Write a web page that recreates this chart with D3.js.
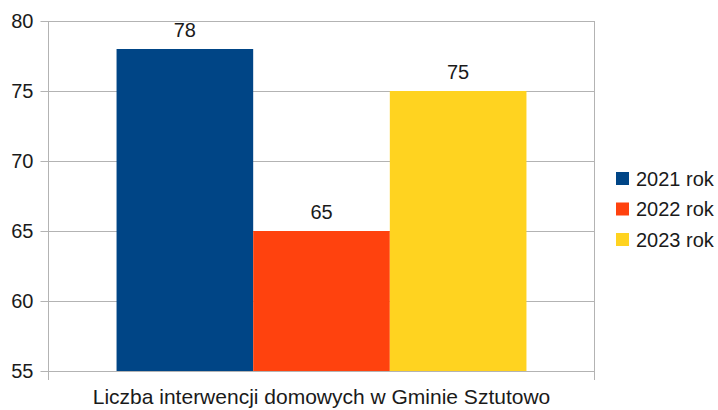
<!DOCTYPE html>
<html>
<head>
<meta charset="utf-8">
<script src="https://cdn.jsdelivr.net/npm/d3@7"></script>
<style>
  body { margin: 0; background: #fff; }
  text { font-family: "Liberation Sans", Arial, sans-serif; fill: #1a1a1a; }
</style>
</head>
<body>
<svg id="chart" width="718" height="410"></svg>
<script>
// data
const category = 'Liczba interwencji domowych w Gminie Sztutowo';
const seriesNames = ['2021 rok', '2022 rok', '2023 rok'];
const seriesValues = [78, 65, 75];
const seriesColors = ['#004586', '#ff420e', '#ffd320'];
const yTicks = [55, 60, 65, 70, 75, 80];

const svg = d3.select('#chart');

const plotLeft = 48.5, plotRight = 594.5, plotTop = 21, plotBottom = 371;
const fontSize = 20;

let y = d3.scaleLinear().domain([55, 80]).range([plotBottom, plotTop]);
let xCat = d3.scaleBand().domain([category]).range([plotLeft, plotRight]).paddingInner(0).paddingOuter(0.166);
let xBar = d3.scaleBand().domain(seriesNames).range([xCat(category), xCat(category) + xCat.bandwidth()]);

// gridlines
svg.append('g')
    .selectAll('line')
    .data(yTicks)
    .enter()
    .append('line')
    .attr('x1', plotLeft - 8)
    .attr('x2', plotRight)
    .attr('y1', d => Math.round(y(d)) + 0.5)
    .attr('y2', d => Math.round(y(d)) + 0.5)
    .style('stroke', '#b3b3b3')
    .style('stroke-width', 1);

// y axis line and x boundary ticks
svg.append('line')
    .attr('x1', plotLeft).attr('x2', plotLeft)
    .attr('y1', plotTop).attr('y2', plotBottom + 9)
    .style('stroke', '#b3b3b3');
svg.append('line')
    .attr('x1', plotRight).attr('x2', plotRight)
    .attr('y1', plotTop).attr('y2', plotBottom + 9)
    .style('stroke', '#b3b3b3');

// y tick labels
svg.append('g')
    .selectAll('text')
    .data(yTicks)
    .enter()
    .append('text')
    .attr('x', plotLeft - 15)
    .attr('y', d => y(d))
    .attr('dy', '0.35em')
    .attr('text-anchor', 'end')
    .style('font-size', fontSize + 'px')
    .text(d => d);

// bars
svg.append('g')
    .selectAll('rect')
    .data(seriesValues)
    .enter()
    .append('rect')
    .attr('x', (d, i) => xBar(seriesNames[i]))
    .attr('y', d => y(d))
    .attr('width', xBar.bandwidth())
    .attr('height', d => plotBottom - y(d))
    .style('fill', (d, i) => seriesColors[i]);

// value labels
svg.append('g')
    .selectAll('text')
    .data(seriesValues)
    .enter()
    .append('text')
    .attr('x', (d, i) => xBar(seriesNames[i]) + xBar.bandwidth() / 2)
    .attr('y', d => y(d) - 12)
    .attr('text-anchor', 'middle')
    .style('font-size', fontSize + 'px')
    .text(d => d);

// category label
svg.append('text')
    .attr('x', (plotLeft + plotRight) / 2)
    .attr('y', 404)
    .attr('text-anchor', 'middle')
    .style('font-size', '21px')
    .text(category);

// legend
let legend = svg.append('g')
    .selectAll('g')
    .data(seriesNames)
    .enter()
    .append('g')
    .attr('transform', (d, i) => 'translate(616,' + (178.5 + i * 30.5) + ')');

legend.append('rect')
    .attr('x', 0)
    .attr('y', -6.5)
    .attr('width', 13)
    .attr('height', 13)
    .style('fill', (d, i) => seriesColors[i]);

legend.append('text')
    .attr('x', 20)
    .attr('y', 0)
    .attr('dy', '0.35em')
    .style('font-size', fontSize + 'px')
    .text(d => d);
</script>
</body>
</html>
